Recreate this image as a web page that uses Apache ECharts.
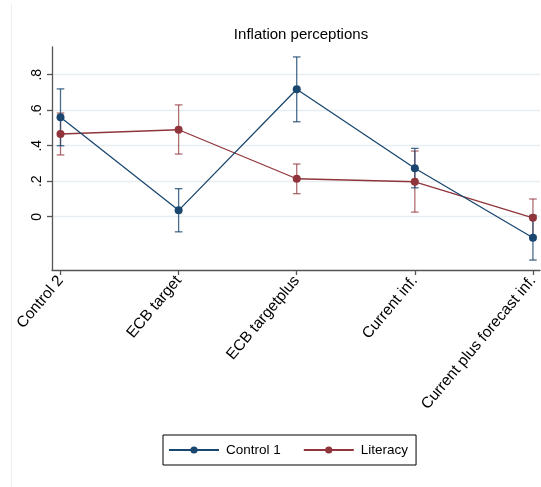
<!DOCTYPE html>
<html><head><meta charset="utf-8">
<script src="https://cdn.jsdelivr.net/npm/echarts@6/dist/echarts.min.js"></script>
<style>html,body{margin:0;padding:0;background:#fff}#c{width:541px;height:487px}</style>
</head><body><div id="c"></div>
<script>
const categories = ['Control 2', 'ECB target', 'ECB targetplus', 'Current inf.', 'Current plus forecast inf.'];
const control1 = [0.56, 0.036, 0.718, 0.273, -0.118];
const control1Lo = [0.40, -0.085, 0.535, 0.163, -0.244];
const control1Hi = [0.72, 0.158, 0.90, 0.385, 0.008];
const literacy = [0.466, 0.49, 0.214, 0.197, -0.006];
const literacyLo = [0.348, 0.353, 0.13, 0.026, -0.11];
const literacyHi = [0.584, 0.63, 0.297, 0.37, 0.10];
const xTicks = [0, 1, 2, 3, 4];
const yTicks = [0, 0.2, 0.4, 0.6, 0.8];
const yTickLabels = ['0', '.2', '.4', '.6', '.8'];

const BLUE = '#1a476f', RED = '#90353b';
const BLUE_CI = 'rgba(26,71,111,0.8)', RED_CI = 'rgba(144,53,59,0.72)';
const FONT = 'Liberation Sans, Arial, sans-serif';

function errRender(color) {
  return function (params, api) {
    const x = api.value(0);
    const p1 = api.coord([x, api.value(1)]);
    const p2 = api.coord([x, api.value(2)]);
    const w = 3.8;
    const st = { stroke: color, lineWidth: 1.3 };
    return { type: 'group', children: [
      { type: 'line', shape: { x1: p1[0], y1: p1[1], x2: p2[0], y2: p2[1] }, style: st },
      { type: 'line', shape: { x1: p1[0] - w, y1: p1[1], x2: p1[0] + w, y2: p1[1] }, style: st },
      { type: 'line', shape: { x1: p2[0] - w, y1: p2[1], x2: p2[0] + w, y2: p2[1] }, style: st }
    ]};
  };
}

const chart = echarts.init(document.getElementById('c'), null, { renderer: 'canvas' });
chart.setOption({
  animation: false,
  backgroundColor: '#fff',
  textStyle: { fontFamily: FONT },
  title: {
    text: 'Inflation perceptions', left: 296, top: 22, textAlign: 'center',
    textStyle: { fontFamily: FONT, fontSize: 15, fontWeight: 'normal', color: '#000' }
  },
  graphic: [{ type: 'line', shape: { x1: 11.5, y1: 4, x2: 11.5, y2: 487 }, style: { stroke: '#eeeeee', lineWidth: 1 }, silent: true }],
  legend: {
    left: 163, top: 435, orient: 'horizontal',
    padding: [8, 8, 8, 5], itemGap: 22, itemWidth: 50, itemHeight: 9,
    borderColor: '#000', borderWidth: 1,
    textStyle: { fontFamily: FONT, fontSize: 13.5, color: '#000', padding: [0, 0, 0, 2] },
    data: ['Control 1', 'Literacy']
  },
  grid: { left: 52, right: 0, top: 47, bottom: 217, containLabel: false },
  xAxis: {
    type: 'value', min: -0.072, max: 4.06,
    axisLine: { show: true, onZero: false, lineStyle: { color: '#555', width: 1.3 } },
    axisTick: { show: true, length: 5, customValues: xTicks, lineStyle: { color: '#555', width: 1.3 } },
    axisLabel: {
      customValues: xTicks, rotate: 50, margin: 8,
      fontFamily: FONT, fontSize: 15.5, color: '#000',
      formatter: v => categories[Math.round(v)] || ''
    },
    splitLine: { show: false }
  },
  yAxis: {
    type: 'value', min: -0.3, max: 0.956,
    axisLine: { show: true, onZero: false, lineStyle: { color: '#555', width: 1.3 } },
    axisTick: { show: true, length: 5, customValues: yTicks, lineStyle: { color: '#555', width: 1.3 } },
    axisLabel: {
      customValues: yTicks, rotate: 90, margin: 8,
      fontFamily: FONT, fontSize: 14, color: '#000',
      formatter: v => { const i = yTicks.findIndex(t => Math.abs(t - v) < 1e-6); return i >= 0 ? yTickLabels[i] : ''; }
    },
    splitLine: { show: true, lineStyle: { color: '#e6eef1', width: 1.3 } }
  },
  series: [
    {
      name: 'Literacy CI', type: 'custom', renderItem: errRender(RED_CI), z: 2,
      data: literacy.map((v, i) => [i, literacyLo[i], literacyHi[i]]), silent: true
    },
    {
      name: 'Control 1 CI', type: 'custom', renderItem: errRender(BLUE_CI), z: 2,
      data: control1.map((v, i) => [i, control1Lo[i], control1Hi[i]]), silent: true
    },
    {
      name: 'Literacy', type: 'line', z: 3,
      data: literacy.map((v, i) => [i, v]),
      symbol: 'circle', symbolSize: 8,
      lineStyle: { color: RED, width: 1.3 }, itemStyle: { color: RED }
    },
    {
      name: 'Control 1', type: 'line', z: 4,
      data: control1.map((v, i) => [i, v]),
      symbol: 'circle', symbolSize: 8,
      lineStyle: { color: BLUE, width: 1.3 }, itemStyle: { color: BLUE }
    }
  ]
});
</script></body></html>
